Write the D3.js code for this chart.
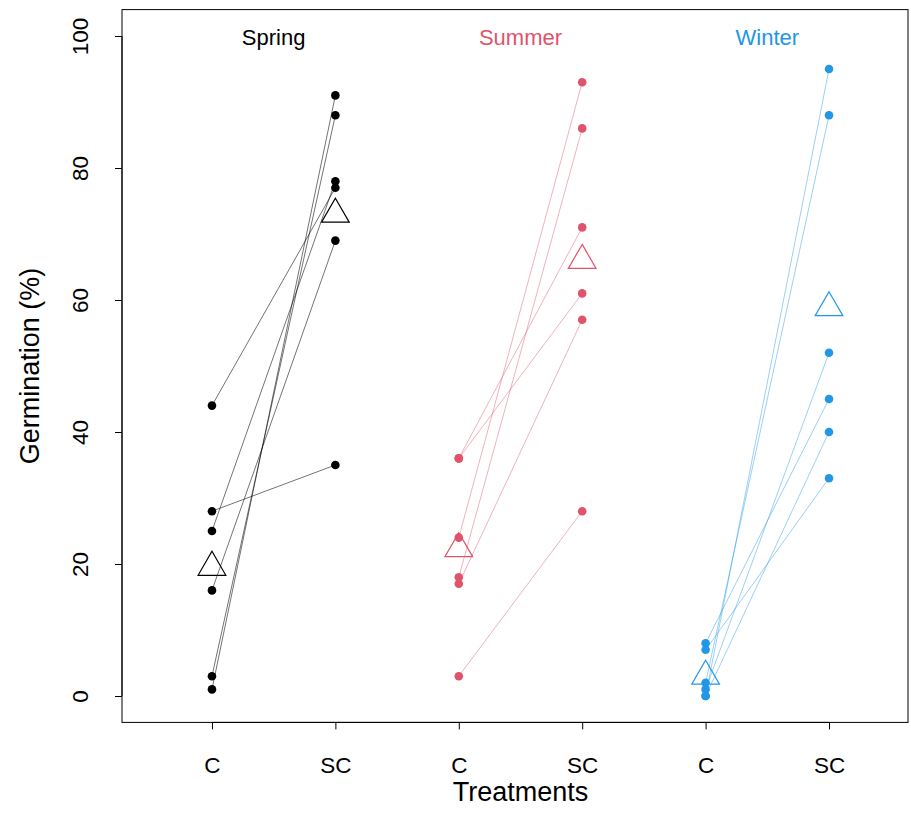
<!DOCTYPE html>
<html>
<head>
<meta charset="utf-8">
<script src="https://cdn.jsdelivr.net/npm/d3@7/dist/d3.min.js"></script>
<style>
  html, body { margin: 0; padding: 0; background: #fff; }
  svg text { font-family: "Liberation Sans", Arial, sans-serif; }
</style>
</head>
<body>
<svg id="chart" width="911" height="835"></svg>
<script>
// ---- data ----
const seasons = ["Spring", "Summer", "Winter"];
const treatments = ["C", "SC"];
const seasonColors = ["#000000", "#DF536B", "#2297E6"];
const springC  = [44, 28, 25, 16, 3, 1];
const springSC = [77, 35, 78, 69, 88, 91];
const summerC  = [36, 36, 24, 18, 17, 3];
const summerSC = [71, 61, 93, 86, 57, 28];
const winterC  = [8, 7, 2, 1, 0, 0];
const winterSC = [45, 33, 88, 52, 95, 40];
const yTicks = [0, 20, 40, 60, 80, 100];

const groups = [
  { season: seasons[0], color: seasonColors[0], c: springC, sc: springSC },
  { season: seasons[1], color: seasonColors[1], c: summerC, sc: summerSC },
  { season: seasons[2], color: seasonColors[2], c: winterC, sc: winterSC }
];

const svg = d3.select("#chart");
const pLeft = 122, pRight = 908, pTop = 9.6, pBottom = 722.4;

const x = d3.scaleLinear().domain([0.271, 6.64]).range([pLeft, pRight]);
const y = d3.scaleLinear().domain([-4, 104]).range([pBottom, pTop]);

// box
svg.append("rect").attr("x", pLeft).attr("y", pTop)
  .attr("width", pRight - pLeft).attr("height", pBottom - pTop)
  .attr("fill", "none").attr("stroke", "#000").attr("stroke-width", 1);

// y axis
const yAxis = d3.axisLeft(y).tickValues(yTicks).tickSize(7).tickPadding(0).tickFormat(d3.format("d"));
const gy = svg.append("g").attr("transform", `translate(${pLeft},0)`).call(yAxis);
gy.select(".domain").attr("d", `M0,${y(0)}V${y(100)}`).attr("stroke", "#000");
gy.selectAll(".tick line").attr("stroke", "#000");
gy.selectAll(".tick text")
  .attr("font-size", 22.5).attr("fill", "#000")
  .attr("text-anchor", "middle")
  .attr("transform", "translate(-42,0) rotate(-90)")
  .attr("x", 0).attr("dy", "0.35em");

// x axis
const xPositions = [];
groups.forEach((g, gi) => treatments.forEach((t, ti) => xPositions.push({ pos: gi * 2 + ti + 1, label: t })));
const xAxis = d3.axisBottom(x).tickValues(xPositions.map(d => d.pos))
  .tickFormat((d, i) => xPositions[i].label).tickSize(7).tickPadding(0);
const gx = svg.append("g").attr("transform", `translate(0,${pBottom})`).call(xAxis);
gx.select(".domain").attr("d", `M${x(1)},0H${x(6)}`).attr("stroke", "#000");
gx.selectAll(".tick line").attr("stroke", "#000");
gx.selectAll(".tick text").attr("font-size", 22.5).attr("fill", "#000").attr("y", 43).attr("dy", "0.35em");

// axis titles
svg.append("text").attr("x", (x(1) + x(6)) / 2).attr("y", 792)
  .attr("text-anchor", "middle").attr("dy", "0.35em")
  .attr("font-size", 27).attr("fill", "#000").text("Treatments");
svg.append("text").attr("transform", `translate(30,${(pTop + pBottom) / 2}) rotate(-90)`)
  .attr("text-anchor", "middle").attr("dy", "0.35em")
  .attr("font-size", 27).attr("fill", "#000").text("Germination (%)");

// triangle path (R pch 2 geometry)
function triPath(cx, cy, r) {
  const hw = r * Math.sqrt(3) / 2;
  return `M${cx},${cy - r}L${cx + hw},${cy + r / 2}L${cx - hw},${cy + r / 2}Z`;
}

groups.forEach((g, gi) => {
  const xc = x(gi * 2 + 1), xs = x(gi * 2 + 2);
  const lineColor = d3.color(g.color); lineColor.opacity = gi === 0 ? 0.55 : 0.45;
  const pairs = g.c.map((v, i) => ({ c: v, sc: g.sc[i] }));
  const grp = svg.append("g");
  grp.selectAll("line.pair").data(pairs).join("line")
    .attr("x1", xc).attr("y1", d => y(d.c))
    .attr("x2", xs).attr("y2", d => y(d.sc))
    .attr("stroke", lineColor.formatRgb()).attr("stroke-width", 1);
  grp.selectAll("circle.c").data(g.c).join("circle")
    .attr("cx", xc).attr("cy", d => y(d)).attr("r", 4.3).attr("fill", g.color);
  grp.selectAll("circle.sc").data(g.sc).join("circle")
    .attr("cx", xs).attr("cy", d => y(d)).attr("r", 4.3).attr("fill", g.color);
  const means = [{ px: xc, v: d3.mean(g.c) }, { px: xs, v: d3.mean(g.sc) }];
  grp.selectAll("path.mean").data(means).join("path")
    .attr("d", d => triPath(d.px, y(d.v), 16))
    .attr("fill", "none").attr("stroke", g.color).attr("stroke-width", 1.2);
  svg.append("text").attr("x", (xc + xs) / 2).attr("y", 37)
    .attr("text-anchor", "middle").attr("dy", "0.35em")
    .attr("font-size", 22).attr("fill", g.color).text(g.season);
});
</script>
</body>
</html>
